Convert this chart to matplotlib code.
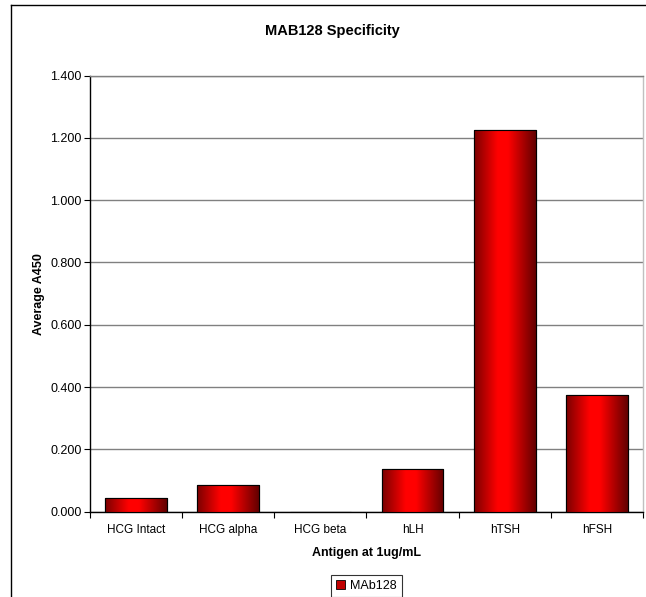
import numpy as np
import matplotlib.pyplot as plt
from matplotlib.colors import LinearSegmentedColormap
from matplotlib.lines import Line2D
from matplotlib.patches import Patch

plt.rcParams['font.family'] = ['Liberation Sans', 'DejaVu Sans']

antigens = ["HCG Intact", "HCG alpha", "HCG beta", "hLH", "hTSH", "hFSH"]
avg_a450 = [0.043, 0.086, 0.0, 0.137, 1.225, 0.374]
yticks = [0.0, 0.2, 0.4, 0.6, 0.8, 1.0, 1.2, 1.4]

fig = plt.figure(figsize=(6.46, 5.97), dpi=100)
ax = fig.add_axes([90/646, 1 - 511.7/597, (643 - 90)/646, (511.7 - 75.5)/597])

x = np.arange(len(antigens))
bars = ax.bar(x, avg_a450, width=0.67, color="#ff0000", edgecolor="black",
              linewidth=0.8, zorder=3, label="MAb128")

# excel style horizontal gradient in each bar
shade = LinearSegmentedColormap.from_list(
    "shade", [(0, "#7a0000"), (0.38, "#ff0000"), (0.55, "#ff0000"), (1, "#620000")])
grad = np.linspace(0, 1, 256).reshape(1, -1)
for b in bars:
    if b.get_height() <= 0:
        continue
    im = ax.imshow(grad, cmap=shade, aspect="auto", zorder=3.5,
                   extent=[b.get_x(), b.get_x() + b.get_width(), 0, b.get_height()])
    im.set_clip_path(b)
    edge = plt.Rectangle((b.get_x(), 0), b.get_width(), b.get_height(),
                         fill=False, edgecolor="black", linewidth=0.8, zorder=4)
    ax.add_patch(edge)

ax.set_xlim(-0.5, len(antigens) - 0.5)
ax.set_ylim(0, 1.4)
ax.set_yticks(yticks)
ax.set_yticklabels([f"{v:.3f}" for v in yticks])
ax.set_xticks(x)
ax.set_xticklabels(antigens)
ax.set_xticks(np.arange(len(antigens) + 1) - 0.5, minor=True)
ax.tick_params(axis="x", which="major", length=0, pad=9, labelsize=8.5)
ax.tick_params(axis="x", which="minor", length=4, direction="out", width=0.8)
ax.tick_params(axis="y", length=4, width=0.8, labelsize=9, pad=2)
ax.yaxis.grid(True, color="#808080", linewidth=1, zorder=0)
ax.set_axisbelow(True)

ax.spines["left"].set_color("black")
ax.spines["bottom"].set_color("black")
ax.spines["top"].set_color("#808080")
ax.spines["right"].set_color("#c0c0c0")
for s in ax.spines.values():
    s.set_linewidth(1)

ax.set_ylabel("Average A450", fontsize=9, fontweight="bold", labelpad=4)
ax.set_xlabel("Antigen at 1ug/mL", fontsize=9, fontweight="bold", labelpad=8)
fig.text(332.5/646, 1 - 31.5/597, "MAB128 Specificity", ha="center", va="center",
         fontsize=10.5, fontweight="bold")

leg = fig.legend(handles=[Patch(facecolor="#c00000", edgecolor="black", linewidth=0.6, label="MAb128")],
                 loc="center", bbox_to_anchor=(366.5/646, 1 - 586/597), fontsize=9,
                 frameon=True, fancybox=False, edgecolor="black", handlelength=0.7,
                 handleheight=0.7, handletextpad=0.4, borderpad=0.4)
leg.get_frame().set_linewidth(0.8)

# outer chart border (left and top only visible)
fig.add_artist(Line2D([11/646, 11/646], [0, 1 - 5/597], color="black", linewidth=1))
fig.add_artist(Line2D([11/646, 1], [1 - 5/597, 1 - 5/597], color="black", linewidth=1))

fig.savefig("out.png", dpi=100)
